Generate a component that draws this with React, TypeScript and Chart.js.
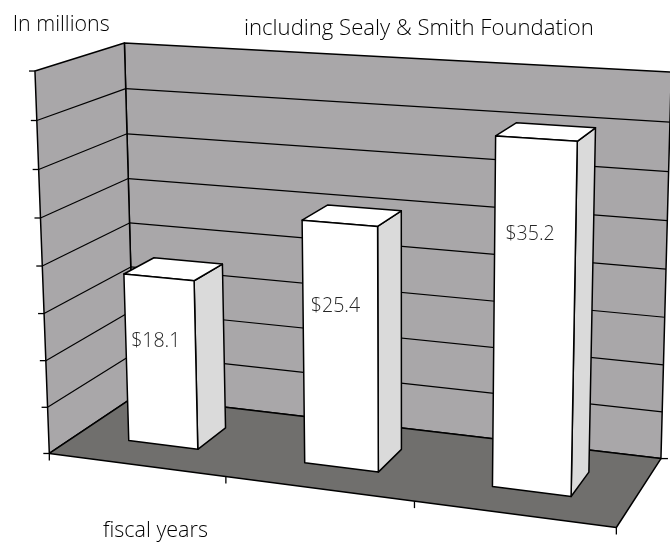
import React, { useEffect, useRef } from 'react';
import { Chart, registerables } from 'chart.js';

Chart.register(...registerables);

// ---------------- data ----------------
const CATEGORIES = ['FY 1', 'FY 2', 'FY 3'];
const VALUES = [18.1, 25.4, 35.2];
const VALUE_LABELS = ['$18.1', '$25.4', '$35.2'];
const Y_MIN = 0;
const Y_MAX = 40;
const Y_STEP = 5;
const TITLE = 'including Sealy & Smith Foundation';
const Y_TITLE = 'In millions';
const X_TITLE = 'fiscal years';

// ---------------- layout (3D frame calibration: u, v, w -> pixel) ----------------
const FRAME: number[][] = [
  [0, 0, 0, 49.3, 452.7],
  [0, 1, 0, 34.3, 71.7],
  [0, 0.5, 0, 42, 266.7],
  [1, 0, 0, 617.7, 526.7],
  [1 / 3, 0, 0, 226.7, 477.3],
  [2 / 3, 0, 0, 413.3, 500.5],
  [0, 0, 1, 134, 396.5],
  [0, 1, 1, 125, 41.7],
  [0, 0.5, 1, 129.6, 222.7],
  [0, 0.875, 1, 126.2, 89.3],
  [1, 0, 1, 660.7, 459.3],
  [1, 1, 1, 671, 72.5],
  [1, 0.5, 1, 665.7, 270],
  [1, 0.875, 1, 670, 121],
];
const BAR_FRONT = 0.32;
const BAR_BACK = 0.68;
const FAMILY = '"Open Sans", "Noto Sans", sans-serif';
const WALL = '#a9a7a9';
const FLOOR = '#706f6d';
const SIDE = '#dadada';

function gauss(A: number[][], b: number[]) {
  const n = b.length;
  const M = A.map((r, i) => [...r, b[i]]);
  for (let c = 0; c < n; c++) {
    let piv = c;
    for (let r = c + 1; r < n; r++) if (Math.abs(M[r][c]) > Math.abs(M[piv][c])) piv = r;
    const t = M[c]; M[c] = M[piv]; M[piv] = t;
    for (let r = 0; r < n; r++) {
      if (r === c) continue;
      const f = M[r][c] / M[c][c];
      for (let k = c; k <= n; k++) M[r][k] -= f * M[c][k];
    }
  }
  return M.map((r, i) => r[n] / r[i]);
}

function makeProjector(pts: number[][]) {
  const N = 11;
  const A = Array.from({ length: N }, () => Array(N).fill(0));
  const B = Array(N).fill(0);
  const cx = 335, cy = 270, s = 300;
  const add = (r: number[], b: number) => {
    for (let i = 0; i < N; i++) {
      for (let j = 0; j < N; j++) A[i][j] += r[i] * r[j];
      B[i] += r[i] * b;
    }
  };
  for (const [u, v, w, px, py] of pts) {
    const x = (px - cx) / s, y = (py - cy) / s;
    add([u, v, w, 1, 0, 0, 0, 0, -x * u, -x * v, -x * w], x);
    add([0, 0, 0, 0, u, v, w, 1, -y * u, -y * v, -y * w], y);
  }
  const p = gauss(A, B);
  return (u: number, v: number, w: number): [number, number] => {
    const d = p[8] * u + p[9] * v + p[10] * w + 1;
    return [
      ((p[0] * u + p[1] * v + p[2] * w + p[3]) / d) * s + cx,
      ((p[4] * u + p[5] * v + p[6] * w + p[7]) / d) * s + cy,
    ];
  };
}

const project = makeProjector(FRAME);

const scenePlugin = {
  id: 'scene3d',
  beforeDatasetsDraw(chart: any) {
    const ctx: CanvasRenderingContext2D = chart.ctx;
    const area = chart.chartArea;
    const xs = chart.scales.x;
    const ys = chart.scales.y;
    const W = area.right - area.left;
    const H = area.bottom - area.top;
    const vOf = (val: number) => (area.bottom - ys.getPixelForValue(val)) / H;
    const uOf = (px: number) => (px - area.left) / W;

    const poly = (pts: [number, number][], fill: string | null, lw = 1.5) => {
      ctx.beginPath();
      pts.forEach((p, i) => (i ? ctx.lineTo(p[0], p[1]) : ctx.moveTo(p[0], p[1])));
      ctx.closePath();
      if (fill) { ctx.fillStyle = fill; ctx.fill(); }
      if (lw > 0) { ctx.lineWidth = lw; ctx.strokeStyle = '#000'; ctx.stroke(); }
    };
    const line = (a: [number, number], b: [number, number], lw = 1.2) => {
      ctx.beginPath();
      ctx.moveTo(a[0], a[1]);
      ctx.lineTo(b[0], b[1]);
      ctx.lineWidth = lw;
      ctx.strokeStyle = '#000';
      ctx.stroke();
    };

    ctx.save();
    ctx.lineJoin = 'round';
    ctx.lineCap = 'butt';

    // walls and floor
    poly([project(0, 0, 1), project(1, 0, 1), project(1, 1, 1), project(0, 1, 1)], WALL, 1.5);
    poly([project(0, 0, 0), project(0, 0, 1), project(0, 1, 1), project(0, 1, 0)], WALL, 1.5);
    poly([project(0, 0, 0), project(1, 0, 0), project(1, 0, 1), project(0, 0, 1)], FLOOR, 1.5);

    // gridlines + value ticks
    for (let t = Y_MIN; t <= Y_MAX + 1e-9; t += Y_STEP) {
      const v = vOf(t);
      if (t > Y_MIN && t < Y_MAX) {
        line(project(0, v, 1), project(1, v, 1));
        line(project(0, v, 0), project(0, v, 1));
      }
      const f = project(0, v, 0);
      line([f[0] - 6, f[1]], f, 1.3);
    }
    // category ticks
    const n = CATEGORIES.length;
    for (let k = 0; k <= n; k++) {
      const u = uOf(xs.getPixelForValue(k - 0.5));
      const p = project(u, 0, 0);
      line(p, [p[0], p[1] + 7], 1.3);
    }
    const br = project(1, 0, 1);
    line(br, [br[0] + 7, br[1]], 1.3);

    // bars
    const meta = chart.getDatasetMeta(0);
    const labelSize = (() => {
      ctx.font = `300 20px ${FAMILY}`;
      return (20 * 49.3) / ctx.measureText(VALUE_LABELS[1]).width;
    })();
    meta.data.forEach((el: any, i: number) => {
      const pr = el.getProps(['x', 'y', 'base', 'width'], true);
      const uc = uOf(pr.x);
      const hw = pr.width / 2 / W;
      const u0 = uc - hw, u1 = uc + hw;
      const vt = (area.bottom - pr.y) / H;
      const vb = (area.bottom - pr.base) / H;
      const w0 = BAR_FRONT, w1 = BAR_BACK;
      poly([project(u1, vb, w0), project(u1, vb, w1), project(u1, vt, w1), project(u1, vt, w0)], SIDE, 1.5);
      poly([project(u0, vt, w0), project(u1, vt, w0), project(u1, vt, w1), project(u0, vt, w1)], '#ffffff', 1.5);
      poly([project(u0, vb, w0), project(u1, vb, w0), project(u1, vt, w0), project(u0, vt, w0)], '#ffffff', 1.5);

      // value label on front face
      const val = VALUES[i];
      const ratio = 0.588 + 0.0077 * (val - 18.1);
      const lv = vb + (vt - vb) * ratio;
      const a = project(u0, lv, w0), b = project(u1, lv, w0);
      ctx.font = `300 ${labelSize}px ${FAMILY}`;
      ctx.fillStyle = '#262626';
      ctx.textAlign = 'center';
      ctx.textBaseline = 'alphabetic';
      ctx.fillText(VALUE_LABELS[i], (a[0] + b[0]) / 2 - 5, (a[1] + b[1]) / 2);
    });

    // texts
    const fit = (text: string, target: number) => {
      ctx.font = `300 20px ${FAMILY}`;
      return (20 * target) / ctx.measureText(text).width;
    };
    ctx.fillStyle = '#000000';
    ctx.textAlign = 'left';
    ctx.textBaseline = 'alphabetic';
    ctx.font = `300 ${fit(Y_TITLE, 97)}px ${FAMILY}`;
    ctx.fillText(Y_TITLE, 12.7, 30.7);
    ctx.font = `300 ${fit(TITLE, 350)}px ${FAMILY}`;
    ctx.fillText(TITLE, 244, 35);
    ctx.font = `300 ${fit(X_TITLE, 105)}px ${FAMILY}`;
    ctx.fillText(X_TITLE, 103, 536.5);

    ctx.restore();
    return false;
  },
};

export default function App() {
  const ref = useRef<HTMLCanvasElement | null>(null);
  useEffect(() => {
    if (!ref.current) return;
    const chart = new Chart(ref.current, {
      type: 'bar',
      data: {
        labels: CATEGORIES,
        datasets: [
          {
            label: 'Funding',
            data: VALUES,
            backgroundColor: '#ffffff',
            barPercentage: 0.4,
            categoryPercentage: 1,
          },
        ],
      },
      options: {
        responsive: false,
        animation: false,
        devicePixelRatio: 1,
        layout: { padding: 0 },
        events: [],
        plugins: {
          legend: { display: false },
          tooltip: { enabled: false },
          title: { display: false },
        },
        scales: {
          x: { display: false, offset: true },
          y: { display: false, min: Y_MIN, max: Y_MAX, ticks: { stepSize: Y_STEP } },
        },
      },
      plugins: [scenePlugin],
    });
    return () => chart.destroy();
  }, []);
  return (
    <div style={{ position: 'fixed', left: 0, top: 0, width: 670, height: 543, background: '#ffffff' }}>
      <canvas ref={ref} width={670} height={543} style={{ display: 'block' }} />
    </div>
  );
}
